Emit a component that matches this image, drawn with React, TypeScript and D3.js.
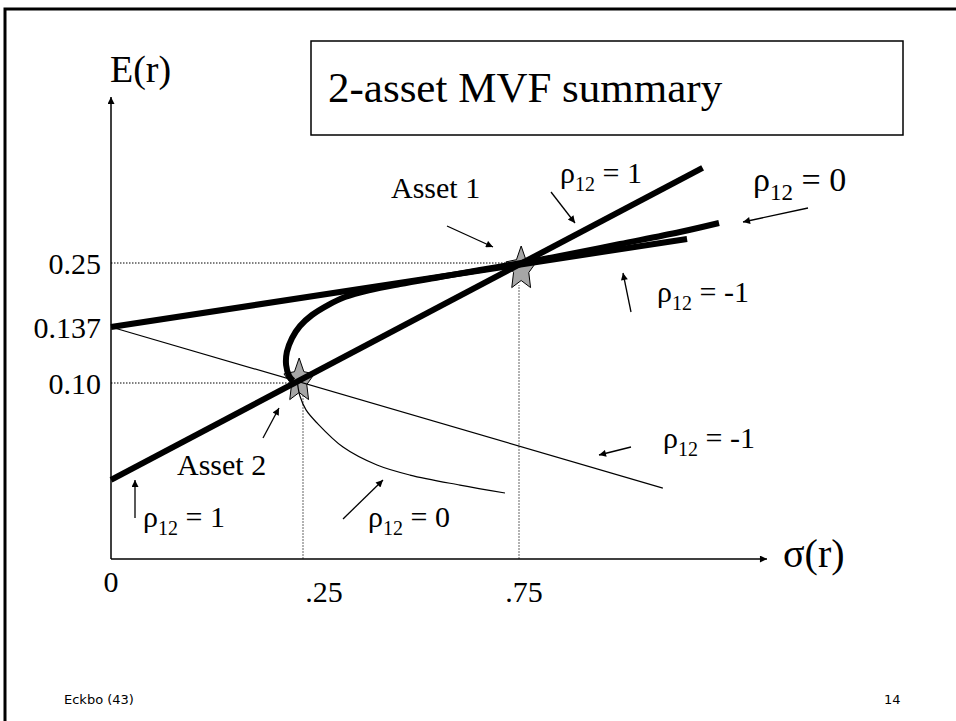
import React from "react";
import * as d3 from "d3";

const W = 956;
const H = 721;

// Axis ticks (schematic values shown on the slide)
const xTickValues = [0, 0.25, 0.75];
const xTickLabels = ["0", ".25", ".75"];
const yTickValues = [0.25, 0.137, 0.1];
const yTickLabels = ["0.25", "0.137", "0.10"];

// Assets (σ, E(r))
const assetNames = ["Asset 1", "Asset 2"];
const assetSigma = [0.755, 0.245];
const assetReturn = [0.25, 0.1];

// Frontier curves (σ, E(r))
const rhoPlusOne: [number, number][] = [
  [0, 0.045],
  [1.175, 0.418],
];
const rhoMinusOneUpper: [number, number][] = [
  [0, 0.137],
  [1.139, 0.2924],
];
const rhoMinusOneLower: [number, number][] = [
  [0, 0.137],
  [1.083, 0.0403],
];
const rhoZeroUpper: [number, number][] = [
  [0.237, 0.1015],
  [0.232, 0.1046],
  [0.228, 0.1119],
  [0.229, 0.1205],
  [0.2357, 0.1297],
  [0.2461, 0.1388],
  [0.2708, 0.1582],
  [0.3079, 0.1758],
  [0.3472, 0.19],
  [0.4051, 0.2023],
  [0.4745, 0.2129],
  [0.5671, 0.2253],
  [0.6597, 0.2376],
  [0.755, 0.25],
  [0.8449, 0.2624],
  [0.9838, 0.2835],
  [1.1227, 0.3047],
  [1.213, 0.3206],
];
const rhoZeroLower: [number, number][] = [
  [0.243, 0.0994],
  [0.246, 0.0926],
  [0.257, 0.0847],
  [0.2824, 0.0773],
  [0.3426, 0.0636],
  [0.4213, 0.0534],
  [0.4977, 0.0477],
  [0.6134, 0.042],
  [0.7176, 0.0375],
];

// Axis extents
const xMax = 1.324;
const yMax = 0.543;

const SERIF = "'Liberation Serif', 'Times New Roman', serif";
const SANS = "'DejaVu Sans', Verdana, sans-serif";

function starPath(cx: number, cy: number, rx: number, ry: number, inner = 0.5) {
  const pts: string[] = [];
  for (let i = 0; i < 10; i++) {
    const a = (-90 + i * 36) * (Math.PI / 180);
    const r = i % 2 === 0 ? 1 : inner;
    pts.push(`${cx + Math.cos(a) * rx * r},${cy + Math.sin(a) * ry * r}`);
  }
  return "M" + pts.join("L") + "Z";
}

function Rho({ x, y, v, size = 30 }: { x: number; y: number; v: string; size?: number }) {
  const sub = Math.round(size * 0.67);
  const shift = Math.round(size * 0.27);
  return (
    <text x={x} y={y} fontFamily={SERIF} fontSize={size} fill="#000">
      ρ
      <tspan fontSize={sub} dy={shift}>12</tspan>
      <tspan dy={-shift}>{" = " + v}</tspan>
    </text>
  );
}

export default function App() {
  const x = d3.scaleLinear().domain([0, 0.25, 0.75]).range([111, 303, 519]);
  const y = d3.scaleLinear().domain([0, 0.1, 0.137, 0.25]).range([559, 383, 327, 263]);

  const straight = d3
    .line<[number, number]>()
    .x((d) => x(d[0]))
    .y((d) => y(d[1]));
  const smooth = d3
    .line<[number, number]>()
    .x((d) => x(d[0]))
    .y((d) => y(d[1]))
    .curve(d3.curveCatmullRom.alpha(0.5));

  const x0 = x(0);
  const y0 = y(0);

  const starShift = [6, -2];

  const arrows: [number, number, number, number][] = [
    [447, 226, 493, 247], // Asset 1
    [263, 438, 279, 408], // Asset 2
    [551, 192, 575, 223], // rho=1 top
    [808, 208, 743, 222], // rho=0 top
    [631, 312, 623, 273], // rho=-1 upper
    [631, 447, 599, 455], // rho=-1 lower
    [343, 519, 383, 480], // rho=0 lower
    [135, 518, 135, 480], // rho=1 lower
  ];

  return (
    <svg
      width={W}
      height={H}
      style={{ position: "absolute", left: 0, top: 0, background: "#fff" }}
    >
      <defs>
        <marker
          id="ah"
          viewBox="0 0 10 10"
          refX={10}
          refY={5}
          markerWidth={9}
          markerHeight={7}
          markerUnits="userSpaceOnUse"
          orient="auto"
        >
          <path d="M0,0 L10,5 L0,10 z" fill="#000" />
        </marker>
        <marker
          id="axh"
          viewBox="0 0 10 10"
          refX={10}
          refY={5}
          markerWidth={10}
          markerHeight={7}
          markerUnits="userSpaceOnUse"
          orient="auto"
        >
          <path d="M0,0 L10,5 L0,10 z" fill="#000" />
        </marker>
      </defs>

      {/* slide frame */}
      <rect x={5} y={9} width={1100} height={900} fill="none" stroke="#000" strokeWidth={3} />

      {/* title box */}
      <rect x={311} y={41} width={592} height={94} fill="#fff" stroke="#000" strokeWidth={1.5} />
      <text x={328} y={102} fontFamily={SERIF} fontSize={43} fill="#000">
        2-asset MVF summary
      </text>

      {/* guide lines */}
      {assetSigma.map((s, i) => (
        <line
          key={"g" + i}
          x1={x0}
          x2={x(s) - (i === 1 ? 8 : 0)}
          y1={y(assetReturn[i])}
          y2={y(assetReturn[i])}
          stroke="#000"
          strokeWidth={1}
          strokeDasharray="1.5,1.5"
        />
      ))}
      {xTickValues.slice(1).map((v, i) => (
        <line
          key={"v" + i}
          x1={x(v)}
          x2={x(v)}
          y1={y0}
          y2={i === 0 ? 395 : 285}
          stroke="#999"
          strokeWidth={1.5}
          strokeDasharray="2,1"
        />
      ))}

      {/* axes */}
      <line x1={x0} y1={y0} x2={x0} y2={y(yMax)} stroke="#000" strokeWidth={1.5} markerEnd="url(#axh)" />
      <line x1={x0} y1={y0} x2={x(xMax)} y2={y0} stroke="#000" strokeWidth={1.5} markerEnd="url(#axh)" />
      <text x={110} y={82} fontFamily={SERIF} fontSize={38} fill="#000">
        E(r)
      </text>
      <text x={783} y={567} fontFamily={SERIF} fontSize={40} fill="#000">
        σ(r)
      </text>

      {/* tick labels */}
      {yTickValues.map((v, i) => (
        <text
          key={"yt" + i}
          x={101}
          y={y(v)}
          dy="0.36em"
          textAnchor="end"
          fontFamily={SERIF}
          fontSize={30}
          fill="#000"
        >
          {yTickLabels[i]}
        </text>
      ))}
      {xTickValues.map((v, i) => (
        <text
          key={"xt" + i}
          x={x(v) + [0, 21, 5][i]}
          y={i === 0 ? 592 : 602}
          textAnchor="middle"
          fontFamily={SERIF}
          fontSize={30}
          fill="#000"
        >
          {xTickLabels[i]}
        </text>
      ))}

      {/* asset stars */}
      {assetSigma.map((s, i) => (
        <path
          key={"s" + i}
          d={starPath(x(s), y(assetReturn[i]) + starShift[i], 16, 23)}
          fill="#a6a6a6"
          stroke="#000"
          strokeWidth={1}
        />
      ))}

      {/* frontiers */}
      <path d={straight(rhoMinusOneLower) || ""} fill="none" stroke="#000" strokeWidth={1.2} />
      <path d={smooth(rhoZeroLower) || ""} fill="none" stroke="#000" strokeWidth={1.2} />
      <path d={straight(rhoPlusOne) || ""} fill="none" stroke="#000" strokeWidth={6} />
      <path d={straight(rhoMinusOneUpper) || ""} fill="none" stroke="#000" strokeWidth={6} />
      <path d={smooth(rhoZeroUpper) || ""} fill="none" stroke="#000" strokeWidth={6} />

      {/* annotation arrows */}
      {arrows.map((a, i) => (
        <line
          key={"a" + i}
          x1={a[0]}
          y1={a[1]}
          x2={a[2]}
          y2={a[3]}
          stroke="#000"
          strokeWidth={1.3}
          markerEnd="url(#ah)"
        />
      ))}

      {/* annotation labels */}
      <text x={391} y={198} fontFamily={SERIF} fontSize={30} fill="#000">
        {assetNames[0]}
      </text>
      <text x={177} y={475} fontFamily={SERIF} fontSize={30} fill="#000">
        {assetNames[1]}
      </text>
      <Rho x={560} y={183} v="1" />
      <Rho x={753} y={191} v="0" size={34} />
      <Rho x={657} y={302} v="-1" />
      <Rho x={663} y={448} v="-1" />
      <Rho x={368} y={527} v="0" />
      <Rho x={143} y={527} v="1" />

      {/* footer */}
      <text x={64} y={704} fontFamily={SANS} fontSize={13} fill="#000">
        Eckbo (43)
      </text>
      <text x={884} y={704} fontFamily={SANS} fontSize={13} fill="#000">
        14
      </text>
    </svg>
  );
}
